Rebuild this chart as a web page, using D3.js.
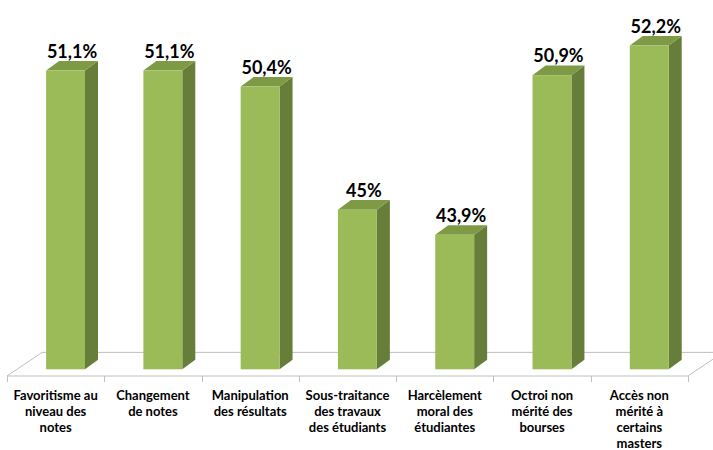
<!DOCTYPE html>
<html>
<head>
<meta charset="utf-8">
<script src="https://cdn.jsdelivr.net/npm/d3@7"></script>
<style>
  html, body { margin: 0; padding: 0; background: #fff; }
  svg { display: block; }
  text { font-family: Lato, "Liberation Sans", sans-serif; font-weight: bold; fill: #000; }
</style>
</head>
<body>
<svg id="chart" width="713" height="450"></svg>
<script>
// Survey categories (each label is split into its display lines)
const categories = [
  "Favoritisme au niveau des notes",
  "Changement de notes",
  "Manipulation des résultats",
  "Sous-traitance des travaux des étudiants",
  "Harcèlement moral des étudiantes",
  "Octroi non mérité des bourses",
  "Accès non mérité à certains masters"
];
const labelLines = [
  ["Favoritisme au", "niveau des", "notes"],
  ["Changement", "de notes"],
  ["Manipulation", "des résultats"],
  ["Sous-traitance", "des travaux", "des étudiants"],
  ["Harcèlement", "moral des", "étudiantes"],
  ["Octroi non", "mérité des", "bourses"],
  ["Accès non", "mérité à", "certains", "masters"]
];
// Percentages shown above each bar
const values = [51.1, 51.1, 50.4, 45, 43.9, 50.9, 52.2];
const valueLabels = ["51,1%", "51,1%", "50,4%", "45%", "43,9%", "50,9%", "52,2%"];
// Hidden value axis range
const axisDomain = [38, 54];

const svg = d3.select("#chart");

// Floor geometry (oblique projection)
const floorFrontY = 376, floorDepthX = 35, floorDepthY = 23.6;
const plotLeft = 7, plotRight = 688;
// Bars sit partway into the floor depth
const barInsetX = 9.9, barBaseY = 369.3;
const barDepthX = 13, barDepthY = 9.6;

const x = d3.scaleBand().domain(categories).range([plotLeft, plotRight]).padding(0);
const y = d3.scaleLinear().domain(axisDomain).range([barBaseY, barBaseY - (axisDomain[1] - axisDomain[0]) * 22.8]);
const barW = x.bandwidth() * 0.4;

// Floor outline
const floor = svg.append("g").attr("stroke", "#bfbfbf").attr("stroke-width", 1).attr("fill", "none");
floor.append("path").attr("d", d3.line()([
  [plotLeft, floorFrontY],
  [plotLeft + floorDepthX, floorFrontY - floorDepthY],
  [plotRight + floorDepthX, floorFrontY - floorDepthY],
  [plotRight, floorFrontY],
  [plotLeft, floorFrontY]
]));

// Category axis ticks at band boundaries
const tickXs = categories.map(c => x(c)).concat([x(categories[categories.length - 1]) + x.bandwidth()]);
floor.selectAll("line.tick").data(tickXs).join("line")
  .attr("class", "tick")
  .attr("x1", d => Math.round(d) + 0.5).attr("x2", d => Math.round(d) + 0.5)
  .attr("y1", floorFrontY).attr("y2", floorFrontY + 6);

// Bars: front, side and top faces
const bars = svg.append("g").selectAll("g").data(values).join("g");
bars.each(function(v, i) {
  const g = d3.select(this);
  const x0 = x(categories[i]) + barInsetX + (x.bandwidth() - barW) / 2;
  const x1 = x0 + barW;
  const top = y(v);
  const base = y(axisDomain[0]);
  g.append("path").attr("fill", "#677d3a").attr("d", d3.line()([
    [x1, top], [x1 + barDepthX, top - barDepthY], [x1 + barDepthX, base - barDepthY], [x1, base]
  ]) + "Z");
  g.append("path").attr("fill", "#7f9a45").attr("d", d3.line()([
    [x0, top], [x0 + barDepthX, top - barDepthY], [x1 + barDepthX, top - barDepthY], [x1, top]
  ]) + "Z");
  g.append("rect").attr("fill", "#9bbb59")
    .attr("x", x0).attr("y", top).attr("width", barW).attr("height", base - top);
  g.append("text")
    .attr("x", x0 + (barW + barDepthX) / 2)
    .attr("y", top - barDepthY - 3.3)
    .attr("text-anchor", "middle")
    .style("font-size", "18px")
    .text(valueLabels[i]);
});

// Category labels
const cats = svg.append("g").selectAll("text").data(categories).join("text")
  .attr("text-anchor", "middle")
  .style("font-size", "13px");
cats.each(function(c, i) {
  const t = d3.select(this);
  labelLines[i].forEach((line, k) => {
    t.append("tspan")
      .attr("x", x(c) + x.bandwidth() / 2)
      .attr("y", 399.5 + k * 16.2)
      .text(line);
  });
});
</script>
</body>
</html>
